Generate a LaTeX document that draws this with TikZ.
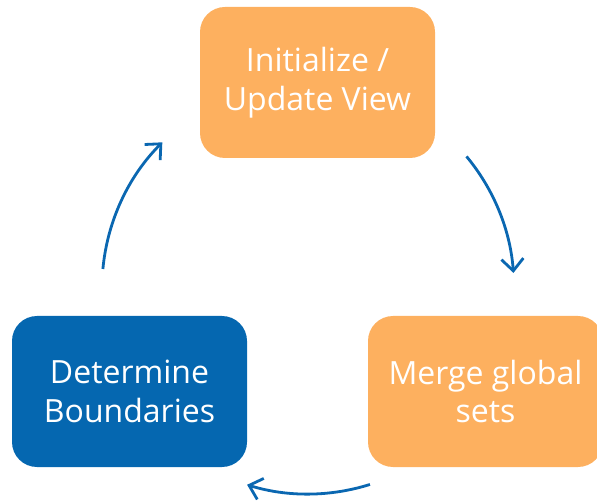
\documentclass[tikz,border=0pt]{standalone}
\usepackage{fontspec}
\setmainfont{Open Sans}
\usetikzlibrary{arrows.meta}
\definecolor{boxorange}{HTML}{FDB05F}
\definecolor{boxblue}{HTML}{0567B0}
\definecolor{arrowblue}{HTML}{0A67B1}

\begin{document}
\begin{tikzpicture}[x=1pt,y=1pt,
  stepbox/.style={rounded corners=25pt, minimum width=235pt, minimum height=151pt,
    text=white, align=center, inner sep=0pt,
    font=\fontsize{32}{38.5}\selectfont},
  cyc/.style={draw=arrowblue, line width=2.8pt,
    -{Straight Barb[length=12pt,width=22pt]}}]
\useasboundingbox (0,0) rectangle (597,501);
\clip (0,0) rectangle (597,501);

% the three steps of the cycle
\node[stepbox, fill=boxorange] (init)  at (317.5,418.5) {Initialize /\\Update View};
\node[stepbox, fill=boxorange] (merge) at (485.5,109.5) {Merge global\\sets};
\node[stepbox, fill=boxblue]   (bound) at (129.5,109.5) {Determine\\Boundaries};

% arcs of one circle linking the steps clockwise
\coordinate (c) at (308,213);
\draw[cyc] ([shift={(39.7:206)}]c) arc[start angle=39.7, end angle=4.2, radius=206];
\draw[cyc] ([shift={(-72.5:206)}]c) arc[start angle=-72.5, end angle=-107.2, radius=206];
\draw[cyc] ([shift={(174.7:206)}]c) arc[start angle=174.7, end angle=135, radius=206];
\end{tikzpicture}
\end{document}
